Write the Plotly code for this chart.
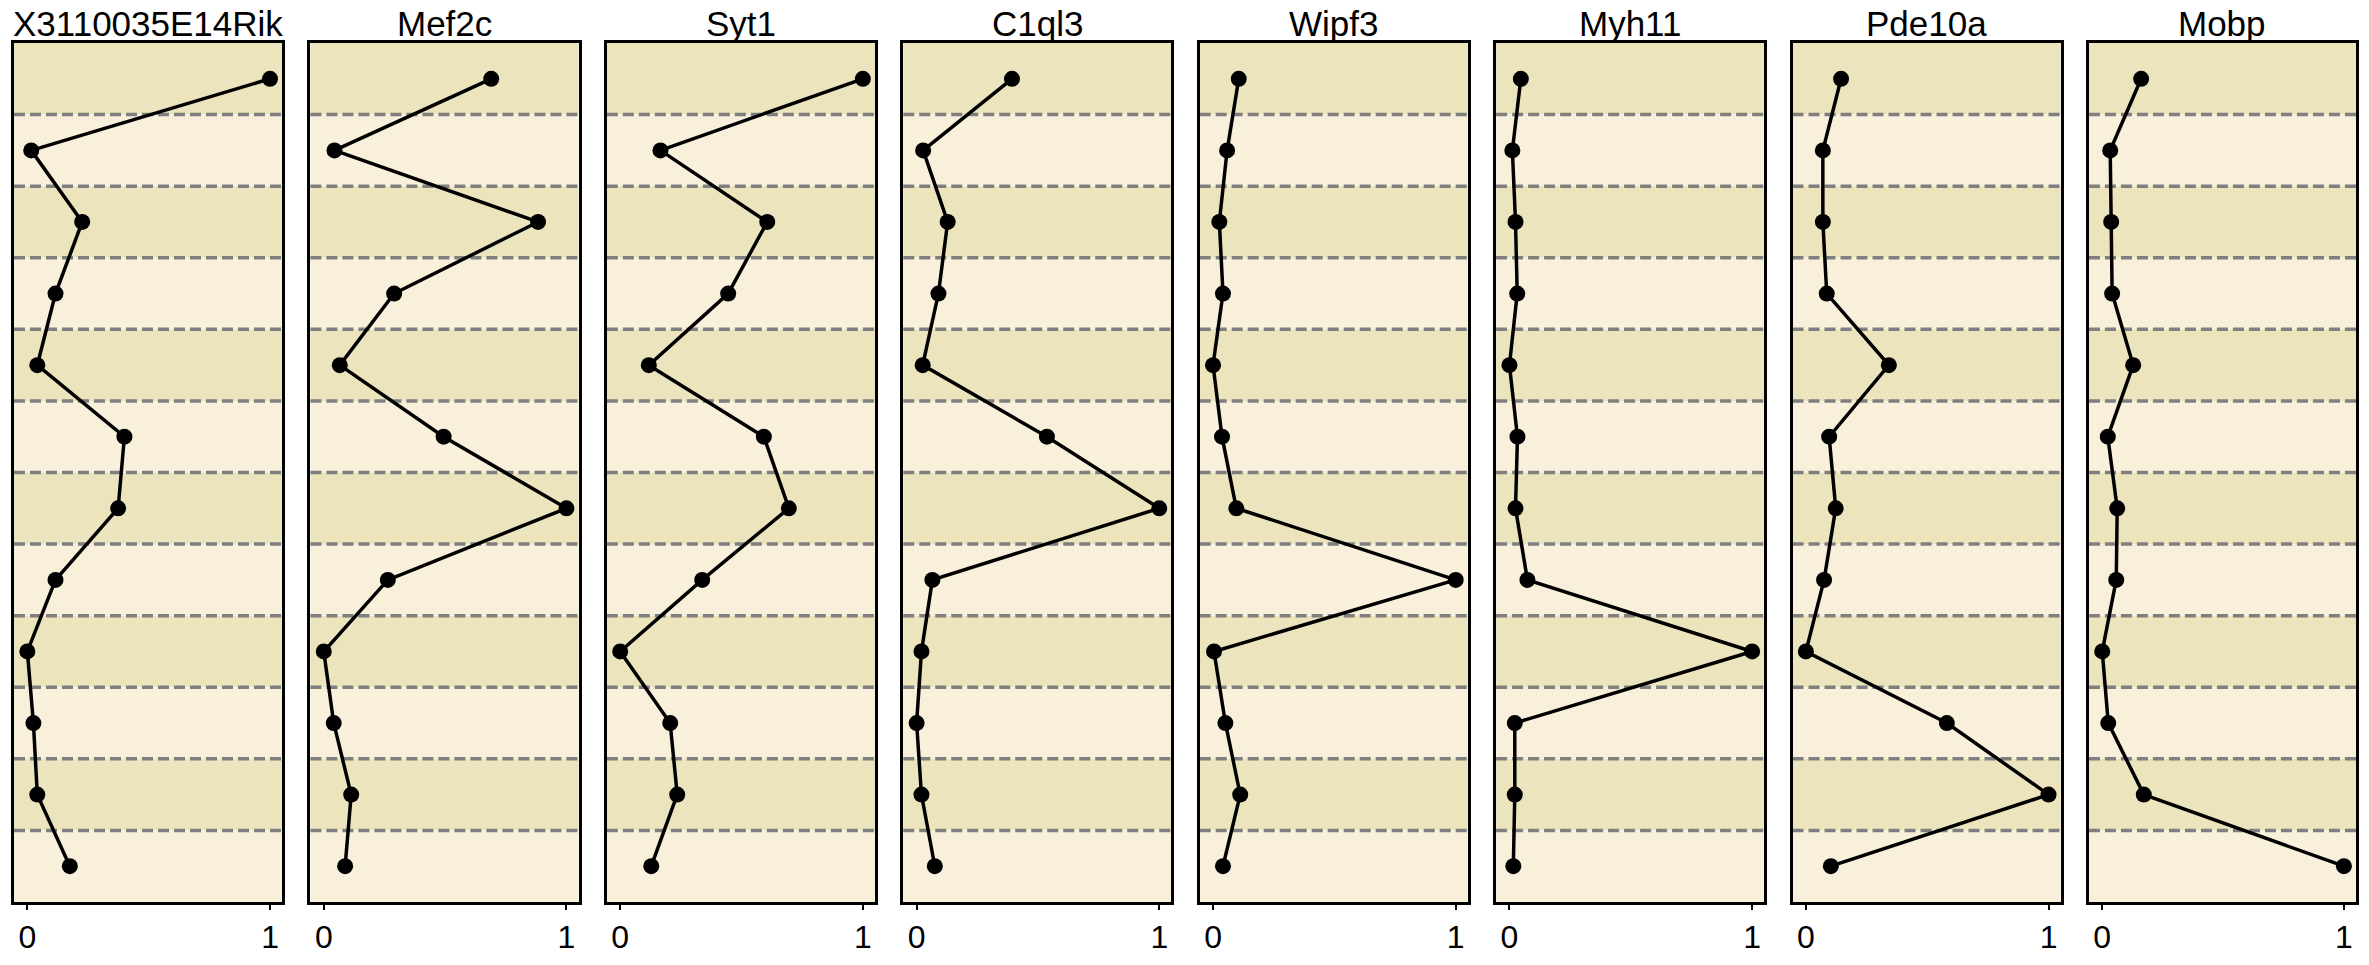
import plotly.graph_objects as go

genes = ["X3110035E14Rik", "Mef2c", "Syt1", "C1ql3", "Wipf3", "Myh11", "Pde10a", "Mobp"]
rows = list(range(12))

v_X3110035E14Rik = [1.0, 0.016, 0.226, 0.116, 0.041, 0.40, 0.374, 0.116, 0.0, 0.025, 0.041, 0.175]
v_Mef2c = [0.69, 0.044, 0.883, 0.29, 0.066, 0.494, 1.0, 0.264, 0.0, 0.041, 0.113, 0.088]
v_Syt1 = [1.0, 0.166, 0.606, 0.445, 0.118, 0.592, 0.695, 0.338, 0.0, 0.206, 0.235, 0.128]
v_C1ql3 = [0.393, 0.027, 0.128, 0.09, 0.025, 0.537, 1.0, 0.065, 0.02, 0.0, 0.02, 0.075]
v_Wipf3 = [0.106, 0.058, 0.026, 0.041, 0.0, 0.037, 0.096, 1.0, 0.004, 0.051, 0.112, 0.041]
v_Myh11 = [0.047, 0.012, 0.025, 0.032, 0.0, 0.033, 0.025, 0.074, 1.0, 0.022, 0.022, 0.016]
v_Pde10a = [0.145, 0.07, 0.07, 0.086, 0.342, 0.096, 0.123, 0.075, 0.0, 0.581, 1.0, 0.103]
v_Mobp = [0.161, 0.033, 0.037, 0.041, 0.128, 0.023, 0.062, 0.058, 0.0, 0.025, 0.172, 1.0]

values = [v_X3110035E14Rik, v_Mef2c, v_Syt1, v_C1ql3, v_Wipf3, v_Myh11, v_Pde10a, v_Mobp]
x_tickvals = [0, 1]
x_ticktext = ["0", "1"]

W, H = 2369, 965
ML, MR, MT, MB = 14, 10, 43, 53
plot_w = W - ML - MR
pitch, pw = 296.8, 268.5

DARK = "#ece4bc"
LIGHT = "#f9f0dc"
FONT = "Liberation Sans, Arial, sans-serif"

fig = go.Figure()
layout = dict(
    width=W, height=H,
    margin=dict(l=ML, r=MR, t=MT, b=MB, pad=0),
    paper_bgcolor="white", plot_bgcolor="white",
    showlegend=False,
    font=dict(family=FONT, color="black"),
)
shapes = []
annotations = []

for i, (g, vals) in enumerate(zip(genes, values)):
    sfx = "" if i == 0 else str(i + 1)
    xa, ya = "x" + sfx, "y" + sfx
    x0 = pitch * i / plot_w
    x1 = min(1.0, (pitch * i + pw) / plot_w)
    fig.add_trace(go.Scatter(
        x=vals, y=rows, mode="lines+markers", xaxis=xa, yaxis=ya,
        line=dict(color="black", width=3.5),
        marker=dict(color="black", size=16),
        hoverinfo="skip",
    ))
    layout["xaxis" + sfx] = dict(
        domain=[x0, x1], anchor=ya, range=[-0.055, 1.05],
        tickvals=x_tickvals, ticktext=x_ticktext,
        ticks="outside", ticklen=5, tickwidth=1.5, tickcolor="black",
        tickfont=dict(size=32, family=FONT, color="black"),
        showgrid=False, zeroline=False,
        showline=True, linecolor="black", linewidth=3, mirror=True,
    )
    layout["yaxis" + sfx] = dict(
        domain=[0, 1], anchor=xa, range=[11.5, -0.5],
        showticklabels=False, ticks="", showgrid=False, zeroline=False,
        showline=True, linecolor="black", linewidth=3, mirror=True,
    )
    for r in rows:
        shapes.append(dict(
            type="rect", xref=xa + " domain", yref=ya,
            x0=0, x1=1, y0=r - 0.5, y1=r + 0.5,
            fillcolor=DARK if r % 2 == 0 else LIGHT,
            line=dict(width=0), layer="below",
        ))
    for r in rows[:-1]:
        shapes.append(dict(
            type="line", xref=xa + " domain", yref=ya,
            x0=0, x1=1, y0=r + 0.5, y1=r + 0.5,
            line=dict(color="#7f7f7f", width=3.5, dash="11px,5px"),
            layer="below",
        ))
    annotations.append(dict(
        text=g, xref="paper", yref="paper",
        x=(x0 + x1) / 2, y=1, xanchor="center", yanchor="bottom",
        yshift=-2, showarrow=False,
        font=dict(size=35, family=FONT, color="black"),
    ))

layout["shapes"] = shapes
layout["annotations"] = annotations
fig.update_layout(**layout)
fig.write_html("out.html")
